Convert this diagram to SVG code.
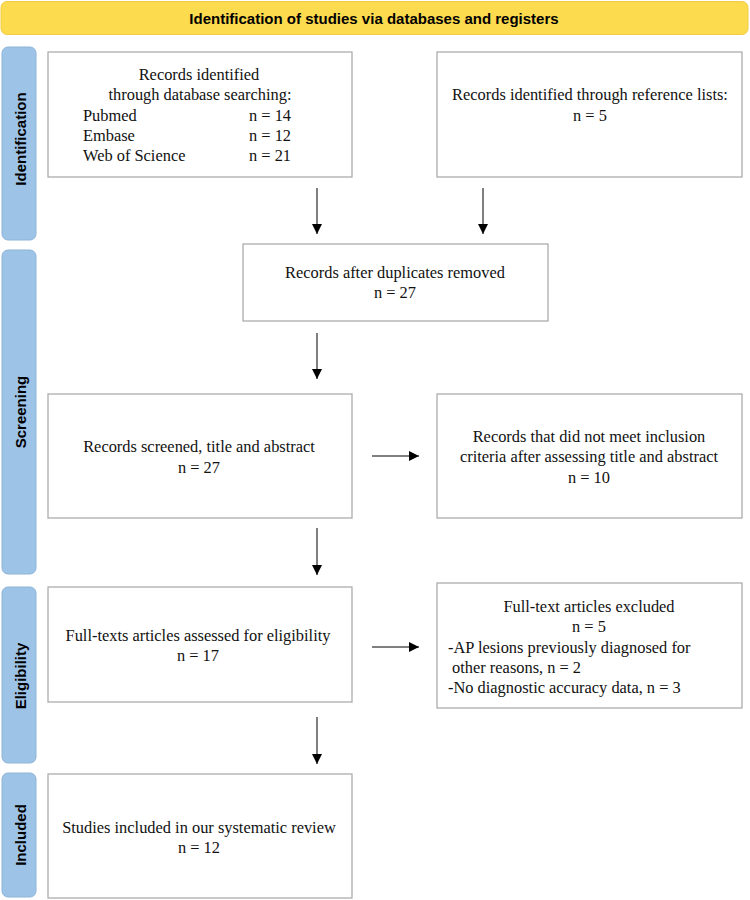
<svg xmlns="http://www.w3.org/2000/svg" width="750" height="900" viewBox="0 0 750 900">
<defs>
<marker id="ah" viewBox="0 0 10 10" refX="10" refY="5" markerWidth="10" markerHeight="10" markerUnits="userSpaceOnUse" orient="auto">
<path d="M0,0 L10,5 L0,10 z" fill="#000"/>
</marker>
<style>
.box{fill:#fff;stroke:#a6a6a6;stroke-width:1.2}
.side{fill:#9dc3e6;stroke:#8eb4d8;stroke-width:1}
.side-t{font-family:"Liberation Sans",Arial,sans-serif;font-weight:bold;font-size:15px;fill:#000;text-anchor:middle}
.t{font-family:"Liberation Serif","Times New Roman",serif;font-size:16.4px;fill:#111}
.c{text-anchor:middle}
.conn{stroke:#000;stroke-width:1;fill:none;marker-end:url(#ah)}
</style>
</defs>
<rect width="750" height="900" fill="#fff"/>
<g id="banner">
<rect x="1" y="1.5" width="747" height="33" rx="6" fill="#fddb4f" stroke="#f0cc45"/>
<text x="374" y="23.5" class="side-t" font-size="16">Identification of studies via databases and registers</text>
</g>
<g id="phase-identification">
<rect x="2" y="47" width="34" height="193" rx="6" class="side"/>
<text transform="translate(25.5,139) rotate(-90)" class="side-t">Identification</text>
</g>
<g id="phase-screening">
<rect x="2" y="250" width="34" height="324" rx="6" class="side"/>
<text transform="translate(25.5,412) rotate(-90)" class="side-t">Screening</text>
</g>
<g id="phase-eligibility">
<rect x="2" y="587" width="34" height="176" rx="6" class="side"/>
<text transform="translate(25.5,676) rotate(-90)" class="side-t">Eligibility</text>
</g>
<g id="phase-included">
<rect x="2" y="773" width="34" height="124" rx="6" class="side"/>
<text transform="translate(25.5,835) rotate(-90)" class="side-t">Included</text>
</g>
<g id="n-databases">
<rect x="48" y="52" width="304" height="125" class="box"/>
<text class="t c" x="199" y="80">Records identified</text>
<text class="t c" x="200" y="100">through database searching:</text>
<text class="t" x="83" y="121">Pubmed</text><text class="t" x="249" y="121">n = 14</text>
<text class="t" x="83" y="141">Embase</text><text class="t" x="249" y="141">n = 12</text>
<text class="t" x="83" y="161">Web of Science</text><text class="t" x="249" y="161">n = 21</text>
</g>
<g id="n-reflists">
<rect x="437" y="52" width="305" height="125" class="box"/>
<text class="t c" x="590" y="100">Records identified through reference lists:</text>
<text class="t c" x="590" y="121">n = 5</text>
</g>
<g id="n-dedup">
<rect x="243" y="244" width="305" height="77" class="box"/>
<text class="t c" x="395" y="278">Records after duplicates removed</text>
<text class="t c" x="395" y="298">n = 27</text>
</g>
<g id="n-screened">
<rect x="48" y="394" width="304" height="124" class="box"/>
<text class="t c" x="199" y="452">Records screened, title and abstract</text>
<text class="t c" x="199" y="473">n = 27</text>
</g>
<g id="n-excl-screen">
<rect x="437" y="394" width="305" height="124" class="box"/>
<text class="t c" x="589" y="442">Records that did not meet inclusion</text>
<text class="t c" x="589" y="462">criteria after assessing title and abstract</text>
<text class="t c" x="589" y="483">n = 10</text>
</g>
<g id="n-fulltext">
<rect x="48" y="587" width="304" height="115" class="box"/>
<text class="t c" x="198" y="641">Full-texts articles assessed for eligibility</text>
<text class="t c" x="198" y="661">n = 17</text>
</g>
<g id="n-excl-full">
<rect x="437" y="583" width="305" height="125" class="box"/>
<text class="t c" x="589" y="612">Full-text articles excluded</text>
<text class="t c" x="589" y="632">n = 5</text>
<text class="t" x="448" y="653">-AP lesions previously diagnosed for</text>
<text class="t" x="448" y="673" xml:space="preserve"> other reasons, n = 2</text>
<text class="t" x="448" y="693">-No diagnostic accuracy data, n = 3</text>
</g>
<g id="n-included">
<rect x="48" y="774" width="304" height="124" class="box"/>
<text class="t c" x="199" y="833">Studies included in our systematic review</text>
<text class="t c" x="199" y="853">n = 12</text>
</g>
<g id="connectors">
<line x1="317" y1="188" x2="317" y2="234" class="conn"/>
<line x1="483" y1="188" x2="483" y2="234" class="conn"/>
<line x1="317" y1="333" x2="317" y2="379" class="conn"/>
<line x1="372" y1="456" x2="419" y2="456" class="conn"/>
<line x1="317" y1="528" x2="317" y2="575" class="conn"/>
<line x1="372" y1="647" x2="419" y2="647" class="conn"/>
<line x1="317" y1="717" x2="317" y2="764" class="conn"/>
</g>
</svg>
